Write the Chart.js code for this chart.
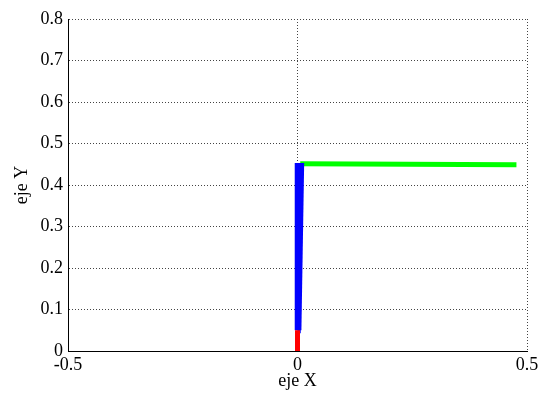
<!DOCTYPE html>
<html><head><meta charset="utf-8">
<script src="https://cdn.jsdelivr.net/npm/chart.js@4/dist/chart.umd.min.js"></script>
<style>html,body{margin:0;padding:0;background:#fff}#wrap{width:545px;height:396px}</style>
</head><body><div id="wrap"><canvas id="c"></canvas></div>
<script>
const xTicks = [-0.5, 0, 0.5];
const yTicks = [0, 0.1, 0.2, 0.3, 0.4, 0.5, 0.6, 0.7, 0.8];
const redX = [0, 0];
const redY = [0, 0.05];
const blueX = [0, 0.0005];
const blueY = [0.05, 0.453];
const blue2X = [0.002, 0.008];
const blue2Y = [0.05, 0.453];
const greenX = [0.006, 0.477];
const greenY = [0.451, 0.449];

const pts = (xs, ys) => xs.map((x, i) => ({x: x, y: ys[i]}));
const font = {family: '"Liberation Serif", "Times New Roman", serif', size: 18};

new Chart(document.getElementById('c'), {
  type: 'scatter',
  data: {datasets: [
    {data: pts(redX, redY), borderColor: '#ff0000', borderWidth: 5, showLine: true, pointRadius: 0},
    {data: pts(blueX, blueY), borderColor: '#0000ff', borderWidth: 6, showLine: true, pointRadius: 0},
    {data: pts(blue2X, blue2Y), borderColor: '#0000ff', borderWidth: 6, showLine: true, pointRadius: 0},
    {data: pts(greenX, greenY), borderColor: '#00ff00', borderWidth: 5, showLine: true, pointRadius: 0}
  ]},
  options: {
    responsive: true, maintainAspectRatio: false, animation: false,
    layout: {padding: {left: 0, top: 19, right: 18, bottom: 0}},
    plugins: {legend: {display: false}, tooltip: {enabled: false}},
    scales: {
      x: {
        type: 'linear', min: -0.5, max: 0.5,
        afterBuildTicks: s => { s.ticks = xTicks.map(v => ({value: v})); },
        afterFit: s => { s.height = 45; },
        ticks: {font: font, color: '#000', padding: 3, maxRotation: 0, callback: v => String(v)},
        grid: {color: '#444', lineWidth: 1, drawTicks: false},
        border: {display: true, color: '#000', width: 1, dash: [1, 2]},
        title: {display: true, text: 'eje X', font: font, color: '#000', padding: {top: 0, bottom: 4}}
      },
      y: {
        type: 'linear', min: 0, max: 0.8,
        afterBuildTicks: s => { s.ticks = yTicks.map(v => ({value: v})); },
        afterFit: s => { s.width = 68; },
        ticks: {font: font, color: '#000', padding: 5, callback: v => String(v)},
        grid: {color: '#444', lineWidth: 1, drawTicks: false},
        border: {display: true, color: '#000', width: 1, dash: [1, 2]},
        title: {display: true, text: 'eje Y', font: font, color: '#000', padding: {top: 11, bottom: 0}}
      }
    }
  },
  plugins: [{
    id: 'axes',
    afterDraw(chart) {
      const {ctx, chartArea: a} = chart;
      ctx.save();
      ctx.strokeStyle = '#000';
      ctx.lineWidth = 1;
      ctx.setLineDash([]);
      ctx.beginPath();
      ctx.moveTo(a.left + 0.5, a.top);
      ctx.lineTo(a.left + 0.5, a.bottom + 0.5);
      ctx.lineTo(a.right, a.bottom + 0.5);
      ctx.stroke();
      ctx.restore();
    }
  }]
});
</script></body></html>
